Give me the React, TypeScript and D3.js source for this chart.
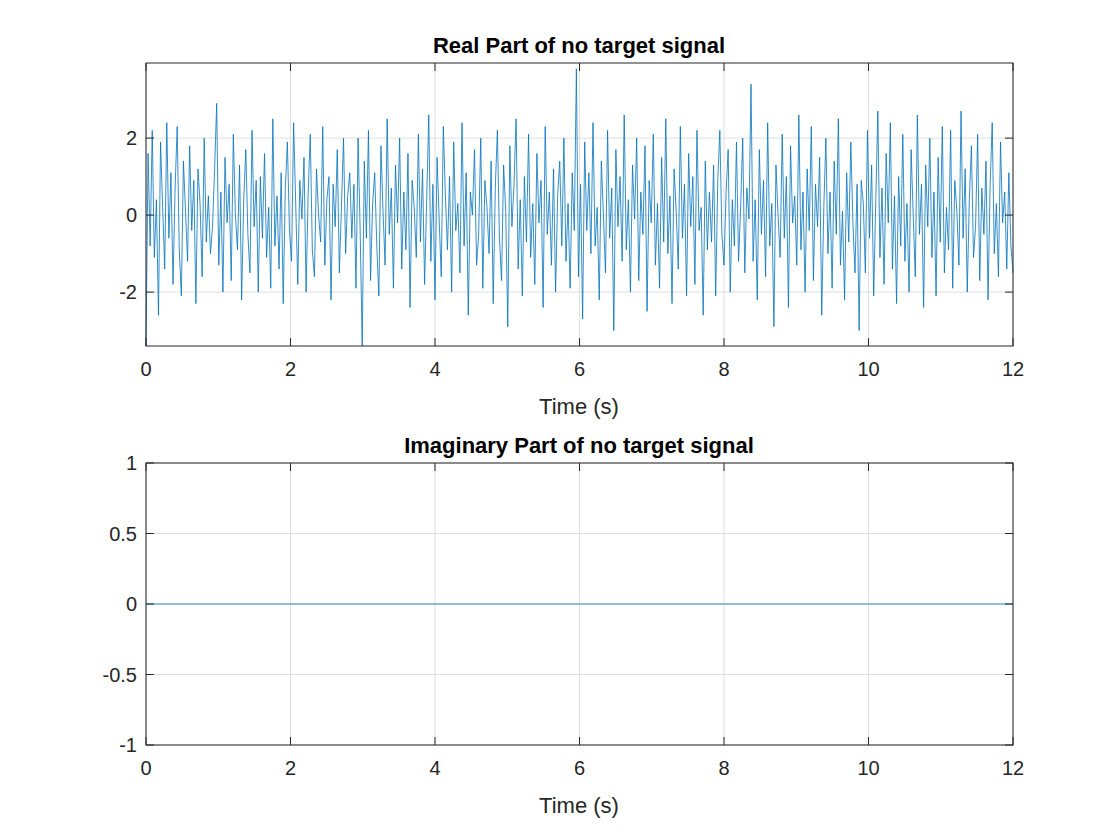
import { useEffect, useRef } from 'react'
import * as d3 from 'd3'

const realPart: number[] = [
  -3.4, 1.6, -0.8, 2.2, -1.1, 0.4, -2.6, 1.9, 0.2, -1.4, 2.4, -0.6, 1.1, -1.8, 0.7, 2.3, -0.9, -2.1, 1.4, 0.1, -1.2, 1.8, -0.4, 0.9, -2.3, 1.2, 0.3, -1.6, 2.0, -0.7, 0.5, -1.0,
  -0.3, 1.2, 2.9, -1.3, 0.6, -2.0, 1.5, -0.2, 0.8, -1.7, 2.1, 0.0, -0.9, 1.3, -2.2, 0.4, 1.7, -0.5, -1.5, 2.2, -0.3, 0.9, -2.0, 1.0, -0.6, 1.6, -1.1, 0.2, -1.9, 2.5, -0.8, 0.5, -1.4, 1.1,
  -2.3, 0.7, 1.9, -0.4, -1.2, 2.4, 0.3, -1.8, 0.9, -0.1, 1.5, -2.0, 0.6, 2.1, -0.9, -1.6, 1.2, 0.0, -0.7, 2.3, -1.3, 0.4, 1.0, -2.2, 0.8, -0.3, 1.7, -1.5, 0.2, 2.0, -1.0, 0.5,
  1.1, -0.6, 0.8, -1.9, 2.0, -0.4, -3.4, 1.4, -0.6, 2.2, -1.7, 0.3, 1.1, -0.8, -2.1, 1.8, 0.1, -1.3, 2.5, -0.5, 0.7, -1.9, 1.3, -0.2, 2.0, -1.4, 0.6, -0.9, 1.6, -2.4, 0.9, 0.2, -1.1, 2.1, -0.7, 1.2, -1.8, 0.4,
  2.6, -1.2, 0.8, -2.2, 1.5, -0.1, -1.6, 2.3, 0.5, -0.9, 1.0, -2.0, 1.9, -0.4, 0.3, -1.5, 2.4, -0.8, 1.1, -2.6, 0.6, 0.0, 1.7, -1.3, -0.5, 2.0, -1.9, 0.9, 0.2, -1.0, 1.4, -2.3,
  0.7, 2.2, -0.6, -1.7, 1.3, 0.1, -2.9, 1.8, -0.3, 0.8, 2.5, -1.4, 0.4, -2.1, 1.0, -0.7, 2.1, -1.1, 0.3, -1.8, 1.6, -0.2, 0.9, -2.4, 2.3, -0.5, 0.6, -1.3, 1.2, -2.0, 0.5, 1.4, -0.8, 2.0, -1.2, 0.3, -1.9, 1.1, -0.4, 3.8,
  -1.6, 0.8, -2.7, 1.9, -0.4, 1.1, -1.0, 2.4, -0.8, 0.2, -2.2, 1.4, 0.0, -1.5, 2.2, -0.6, 0.7, -3.0, 1.7, -0.3, 1.0, -1.2, 2.6, -0.9, 0.4, -2.0, 1.3, -0.1, 2.0, -1.7, 0.6, -0.5,
  1.8, -2.5, 0.9, -0.2, 2.1, -1.3, 0.3, -1.9, 1.5, -0.7, 2.5, -1.0, 0.5, -2.3, 1.2, 0.1, -1.4, 2.3, -0.6, 0.8, -2.1, 1.6, -0.3, 1.0, -1.8, 2.2, -0.4, 0.2, -2.6, 1.4, -0.9, 0.6,
  -0.7, 1.3, -2.1, 0.9, 2.2, -0.5, -1.3, 0.6, 1.7, -2.0, 0.4, -0.8, 1.9, -1.2, 0.2, 2.0, -1.5, 0.7, -0.1, 3.4, -1.2, 0.4, -2.2, 1.7, -0.5, 0.9, -1.6, 2.4, -0.8, 0.3, -2.9, 1.3, 0.0, -1.1, 2.1, -0.6, 1.0, -2.4, 1.8, -0.2, 0.5, -1.3, 2.6, -0.9, 0.6, -2.0, 1.2,
  -0.4, 2.3, -1.7, 0.8, -0.3, 1.5, -2.6, 0.2, 2.0, -1.0, 0.6, -1.9, 1.4, -0.5, 2.5, -1.3, 0.1, -2.2, 1.1, -0.7, 1.9, -0.2, -1.5, 0.8, -3.0, 0.9, 0.3, -1.5, 2.2, -0.6, 1.3, -2.1, 0.4, 2.7, -1.1,
  0.7, -1.8, 1.6, -0.2, 2.4, -1.4, 0.5, -2.3, 1.0, -0.8, 2.1, -1.2, 0.3, -2.0, 1.7, 0.0, -1.6, 2.6, -0.5, 0.8, -2.4, 1.3, -0.3, 2.0, -1.1, 0.6, -2.1, 1.5, -0.7, 2.3, -1.5, 0.2,
  -0.9, 2.2, -1.9, 0.9, 0.1, -1.3, 2.7, -0.6, 1.2, -2.0, 0.4, 1.8, -1.1, -0.3, 2.1, -1.7, 0.7, -0.5, 1.4, -2.2, 0.8, 2.4, -1.0, 0.3, -1.6, 1.9, -0.2, 0.6, -1.4, 1.1, -0.8, -1.5,
]
const imagPart: number[] = [0, 0]
const xTicks = [0, 2, 4, 6, 8, 10, 12]
const realTicks = [-2, 0, 2]
const imagTicks = [-1, -0.5, 0, 0.5, 1]

const W = 1120
const H = 840
const FONT = 'Arial, "Liberation Sans", Helvetica, sans-serif'

const App = () => {
  const ref = useRef<SVGSVGElement>(null)

  useEffect(() => {
    const svg = d3.select(ref.current)
    svg.selectAll('*').remove()
    svg.append('rect').attr('width', W).attr('height', H).attr('fill', '#fff')

    const panel = (
      top: number,
      bottom: number,
      yDomain: [number, number],
      yTicks: number[],
      values: number[],
      color: string,
      title: string
    ) => {
      const x = d3.scaleLinear().domain([0, 12]).range([146, 1013])
      const y = d3.scaleLinear().domain(yDomain).range([bottom, top])
      const g = svg.append('g')
      // grid
      g.selectAll('.gx').data(xTicks).join('line')
        .attr('x1', (d) => x(d)).attr('x2', (d) => x(d)).attr('y1', top).attr('y2', bottom)
        .attr('stroke', '#dfdfdf').attr('stroke-width', 1)
      g.selectAll('.gy').data(yTicks).join('line')
        .attr('x1', 146).attr('x2', 1013).attr('y1', (d) => y(d)).attr('y2', (d) => y(d))
        .attr('stroke', '#dfdfdf').attr('stroke-width', 1)
      // data line
      const xs = d3.scaleLinear().domain([0, values.length - 1]).range([0, 12])
      const line = d3.line<number>().x((_, i) => x(xs(i))).y((d) => y(d))
      g.append('path').datum(values).attr('d', line).attr('fill', 'none')
        .attr('stroke', color).attr('stroke-width', 0.8)
      // box
      g.append('rect')
        .attr('x', 146).attr('y', top).attr('width', 867).attr('height', bottom - top)
        .attr('fill', 'none').attr('stroke', '#262626').attr('stroke-width', 1)
      // ticks
      g.selectAll('.tx').data(xTicks).join('line')
        .attr('x1', (d) => x(d)).attr('x2', (d) => x(d)).attr('y1', bottom).attr('y2', bottom - 8)
        .attr('stroke', '#262626')
      g.selectAll('.tx2').data(xTicks).join('line')
        .attr('x1', (d) => x(d)).attr('x2', (d) => x(d)).attr('y1', top).attr('y2', top + 8)
        .attr('stroke', '#262626')
      g.selectAll('.ty').data(yTicks).join('line')
        .attr('x1', 146).attr('x2', 154).attr('y1', (d) => y(d)).attr('y2', (d) => y(d))
        .attr('stroke', '#262626')
      g.selectAll('.ty2').data(yTicks).join('line')
        .attr('x1', 1013).attr('x2', 1005).attr('y1', (d) => y(d)).attr('y2', (d) => y(d))
        .attr('stroke', '#262626')
      g.selectAll('.lx').data(xTicks).join('text')
        .attr('x', (d) => x(d)).attr('y', bottom + 30).attr('text-anchor', 'middle')
        .attr('font-family', FONT).attr('font-size', 20).attr('fill', '#262626')
        .text((d) => String(d))
      g.selectAll('.ly').data(yTicks).join('text')
        .attr('x', 137).attr('y', (d) => y(d) + 7).attr('text-anchor', 'end')
        .attr('font-family', FONT).attr('font-size', 20).attr('fill', '#262626')
        .text((d) => String(d))
      g.append('text').attr('x', 579).attr('y', bottom + 68).attr('text-anchor', 'middle')
        .attr('font-family', FONT).attr('font-size', 22).attr('fill', '#262626')
        .text('Time (s)')
      g.append('text').attr('x', 579).attr('y', top - 10).attr('text-anchor', 'middle')
        .attr('font-family', FONT).attr('font-size', 22).attr('font-weight', 'bold')
        .attr('fill', '#000').text(title)
    }

    panel(63, 346, [-3.4, 3.95], realTicks, realPart, '#0072BD', 'Real Part of no target signal')
    panel(463, 745, [-1, 1], imagTicks, imagPart, '#0072BD', 'Imaginary Part of no target signal')
  }, [])

  return <svg ref={ref} width={W} height={H} style={{ display: 'block', margin: -8 }} />
}

export default App
